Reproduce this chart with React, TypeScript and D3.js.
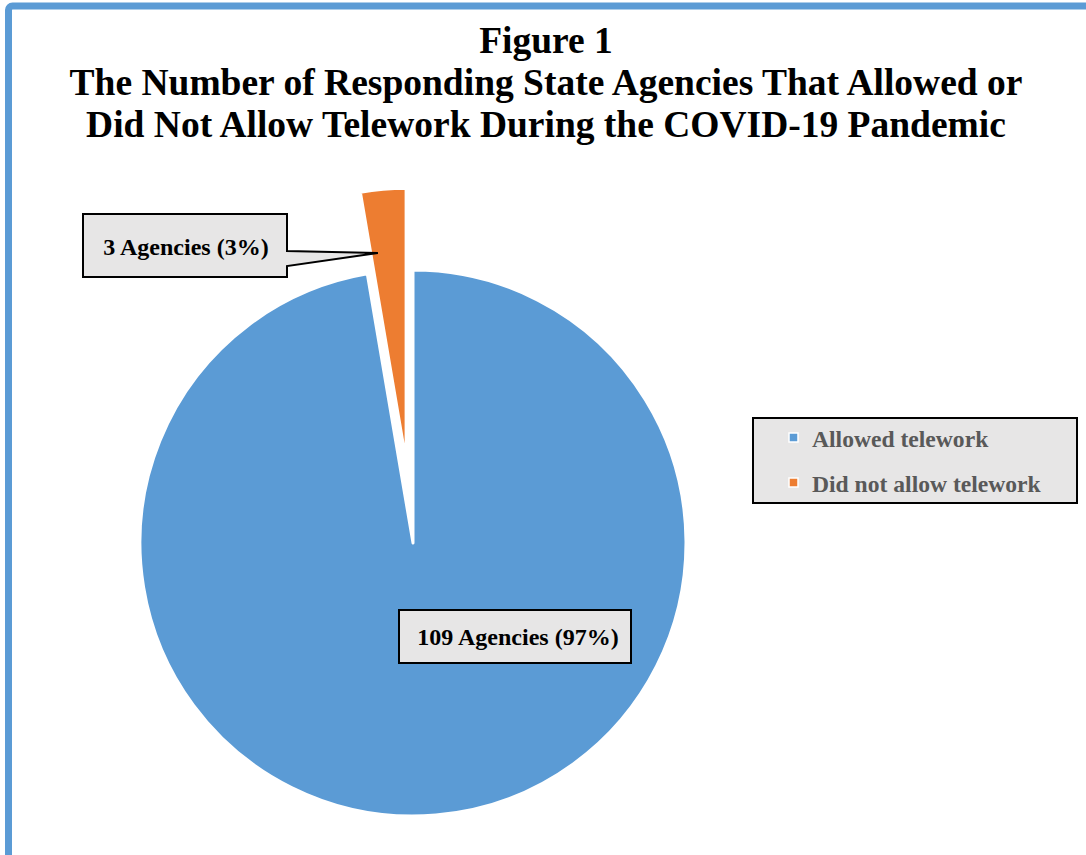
import React from "react";
import * as d3 from "d3";

const categories = ["Allowed telework", "Did not allow telework"];
const values = [109, 3];
const labels = ["109 Agencies (97%)", "3 Agencies (3%)"];
const colors = ["#5B9BD5", "#ED7D31"];
const titleLines = [
  "Figure 1",
  "The Number of Responding State Agencies That Allowed or",
  "Did Not Allow Telework During the COVID-19 Pandemic",
];

export default function App() {
  const W = 1086, H = 855;
  const cx = 413, cy = 543, r = 273;
  const explode = 82;
  const pie = d3.pie<number>().sort(null).value((d) => d)(values);
  const arc = d3.arc<d3.PieArcDatum<number>>().innerRadius(0).outerRadius(r);
  const font = "'Liberation Serif', 'Times New Roman', serif";

  const orange = pie[1];
  const mid = (orange.startAngle + orange.endAngle) / 2;
  const ox = Math.sin(mid) * explode;
  const oy = -Math.cos(mid) * explode;
  // pointer target on the orange slice
  const pa = orange.startAngle + (orange.endAngle - orange.startAngle) * 0.2;
  const pr = r * 0.77;
  const px = cx + ox + Math.sin(pa) * pr;
  const py = cy + oy - Math.cos(pa) * pr;

  const b1 = { x: 83, y: 214, w: 204, h: 63 };
  const calloutPath = `M${b1.x},${b1.y} H${b1.x + b1.w} V${251} L${px},${py} L${b1.x + b1.w},${266} V${b1.y + b1.h} H${b1.x} Z`;
  const b2 = { x: 399, y: 610, w: 232, h: 53 };
  const lg = { x: 753, y: 418, w: 324, h: 85 };

  return (
    <svg width={W} height={H} style={{ position: "absolute", left: 0, top: 0 }}>
      <rect x={0} y={0} width={W} height={H} fill="#fff" />
      <rect x={8.5} y={6} width={W + 20} height={H + 20} rx={4} fill="none" stroke="#5B9BD5" strokeWidth={7} />
      {titleLines.map((t, i) => (
        <text key={i} x={546} y={53 + i * 42} textAnchor="middle" fontFamily={font} fontWeight="bold" fontSize={37.5}>
          {t}
        </text>
      ))}
      <g>
        {pie.map((d, i) => {
          const dx = i === 1 ? ox : 0;
          const dy = i === 1 ? oy : 0;
          return (
            <path key={i} d={arc(d) as string} transform={`translate(${cx + dx},${cy + dy})`} fill={colors[i]} stroke="#fff" strokeWidth={3} strokeLinejoin="round" />
          );
        })}
      </g>
      <path d={calloutPath} fill="#E7E6E6" stroke="#000" strokeWidth={2} />
      <text x={b1.x + b1.w / 2 + 1} y={b1.y + 41} textAnchor="middle" fontFamily={font} fontWeight="bold" fontSize={24}>
        {labels[1]}
      </text>
      <rect x={b2.x} y={b2.y} width={b2.w} height={b2.h} fill="#E7E6E6" stroke="#000" strokeWidth={2} />
      <text x={b2.x + b2.w / 2 + 3} y={b2.y + 35} textAnchor="middle" fontFamily={font} fontWeight="bold" fontSize={24}>
        {labels[0]}
      </text>
      <rect x={lg.x} y={lg.y} width={lg.w} height={lg.h} fill="#E7E6E6" stroke="#000" strokeWidth={2} />
      {categories.map((c, i) => (
        <g key={c}>
          <rect x={789} y={433 + i * 45} width={9} height={9} fill={colors[i]} stroke="#fff" strokeWidth={1.5} />
          <text x={812} y={447 + i * 45} fontFamily={font} fontWeight="bold" fontSize={23.6} fill="#595959">
            {c}
          </text>
        </g>
      ))}
    </svg>
  );
}
